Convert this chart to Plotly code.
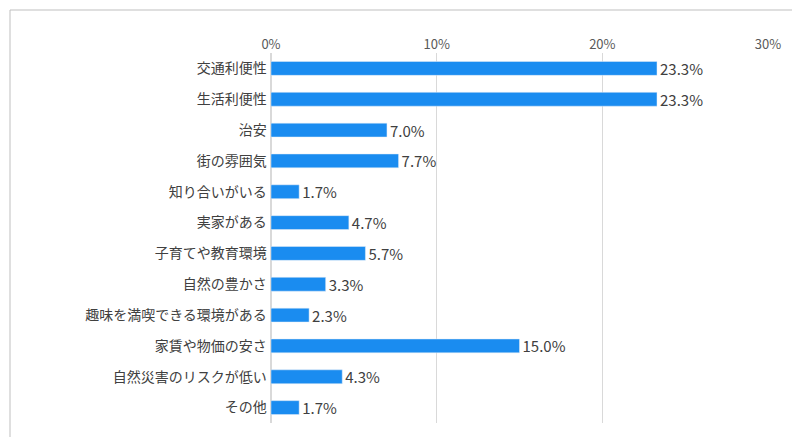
import plotly.graph_objects as go

categories = ["交通利便性", "生活利便性", "治安", "街の雰囲気", "知り合いがいる", "実家がある",
              "子育てや教育環境", "自然の豊かさ", "趣味を満喫できる環境がある",
              "家賃や物価の安さ", "自然災害のリスクが低い", "その他"]
values = [23.3, 23.3, 7.0, 7.7, 1.7, 4.7, 5.7, 3.3, 2.3, 15.0, 4.3, 1.7]

font = "Noto Sans CJK JP"

fig = go.Figure(go.Bar(
    x=values, y=categories, orientation="h",
    marker_color="#1a8cf0", width=0.45,
    text=[f"{v:.1f}%" for v in values], textposition="outside",
    constraintext="none",
    textfont=dict(size=15, color="#404040", family=font),
    cliponaxis=False,
))

fig.update_layout(
    width=800, height=437,
    margin=dict(l=263, r=40, t=45, b=22),
    plot_bgcolor="white", paper_bgcolor="white",
    showlegend=False,
    xaxis=dict(range=[0, 30], side="top", dtick=10, ticksuffix="%",
               automargin=False,
               showgrid=True, gridcolor="#d9d9d9", zeroline=True,
               zerolinecolor="#d9d9d9",
               tickfont=dict(size=13, color="#595959", family=font)),
    yaxis=dict(autorange="reversed", ticksuffix=" ", automargin=False,
               tickfont=dict(size=14, color="#404040", family=font)),
    shapes=[dict(type="rect", xref="paper", yref="paper",
                 x0=-261/497, x1=1 + 38/497, y0=-20/370, y1=1 + 43/370,
                 line=dict(color="#bfbfbf", width=1))],
)

fig.write_html("out.html")
